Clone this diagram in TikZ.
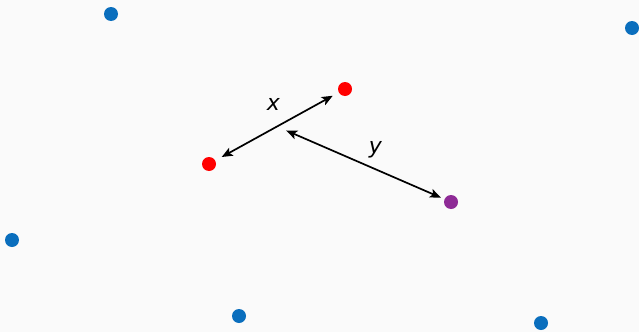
\documentclass[tikz,border=0pt]{standalone}
\usepackage{fontspec}
\setmainfont{DejaVu Sans}
\usetikzlibrary{arrows.meta}
\definecolor{bg}{HTML}{FAFAFA}
\definecolor{dotblue}{HTML}{0A6EBD}
\definecolor{dotred}{HTML}{FF0000}
\definecolor{dotpurple}{HTML}{8E2A96}
\begin{document}
\begin{tikzpicture}[x=1pt,y=-1pt,
  dot/.style={circle,inner sep=0pt,minimum size=14pt,fill=#1},
  vec/.style={line width=1.7pt,{Stealth[length=11pt,width=9pt,inset=2.5pt]}-{Stealth[length=11pt,width=9pt,inset=2.5pt]}},
  lab/.style={font=\fontsize{22}{26}\selectfont\itshape}]
\fill[bg] (0,0) rectangle (639,332);
\useasboundingbox (0,0) rectangle (639,332);
\node[dot=dotblue] (b1) at (111,14) {};
\node[dot=dotblue] (b2) at (632,28) {};
\node[dot=dotblue] (b3) at (12,240) {};
\node[dot=dotblue] (b4) at (239,316) {};
\node[dot=dotblue] (b5) at (541,323) {};
\node[dot=dotred] (ra) at (345,89) {};
\node[dot=dotred] (rb) at (209,164) {};
\node[dot=dotpurple] (p) at (451,202) {};
\coordinate (ca) at (345,89);
\coordinate (cb) at (209,164);
\coordinate (cp) at (451,202);
\coordinate (m) at (277,126.5);
\draw[vec,shorten <=14.5pt,shorten >=14pt] (cb) -- (ca);
\draw[vec,shorten <=10pt,shorten >=11pt] (m) -- (cp);
\node[lab] (lx) at (273.5,104.5) {x};
\node[lab] (ly) at (375.5,150) {y};
\end{tikzpicture}
\end{document}
